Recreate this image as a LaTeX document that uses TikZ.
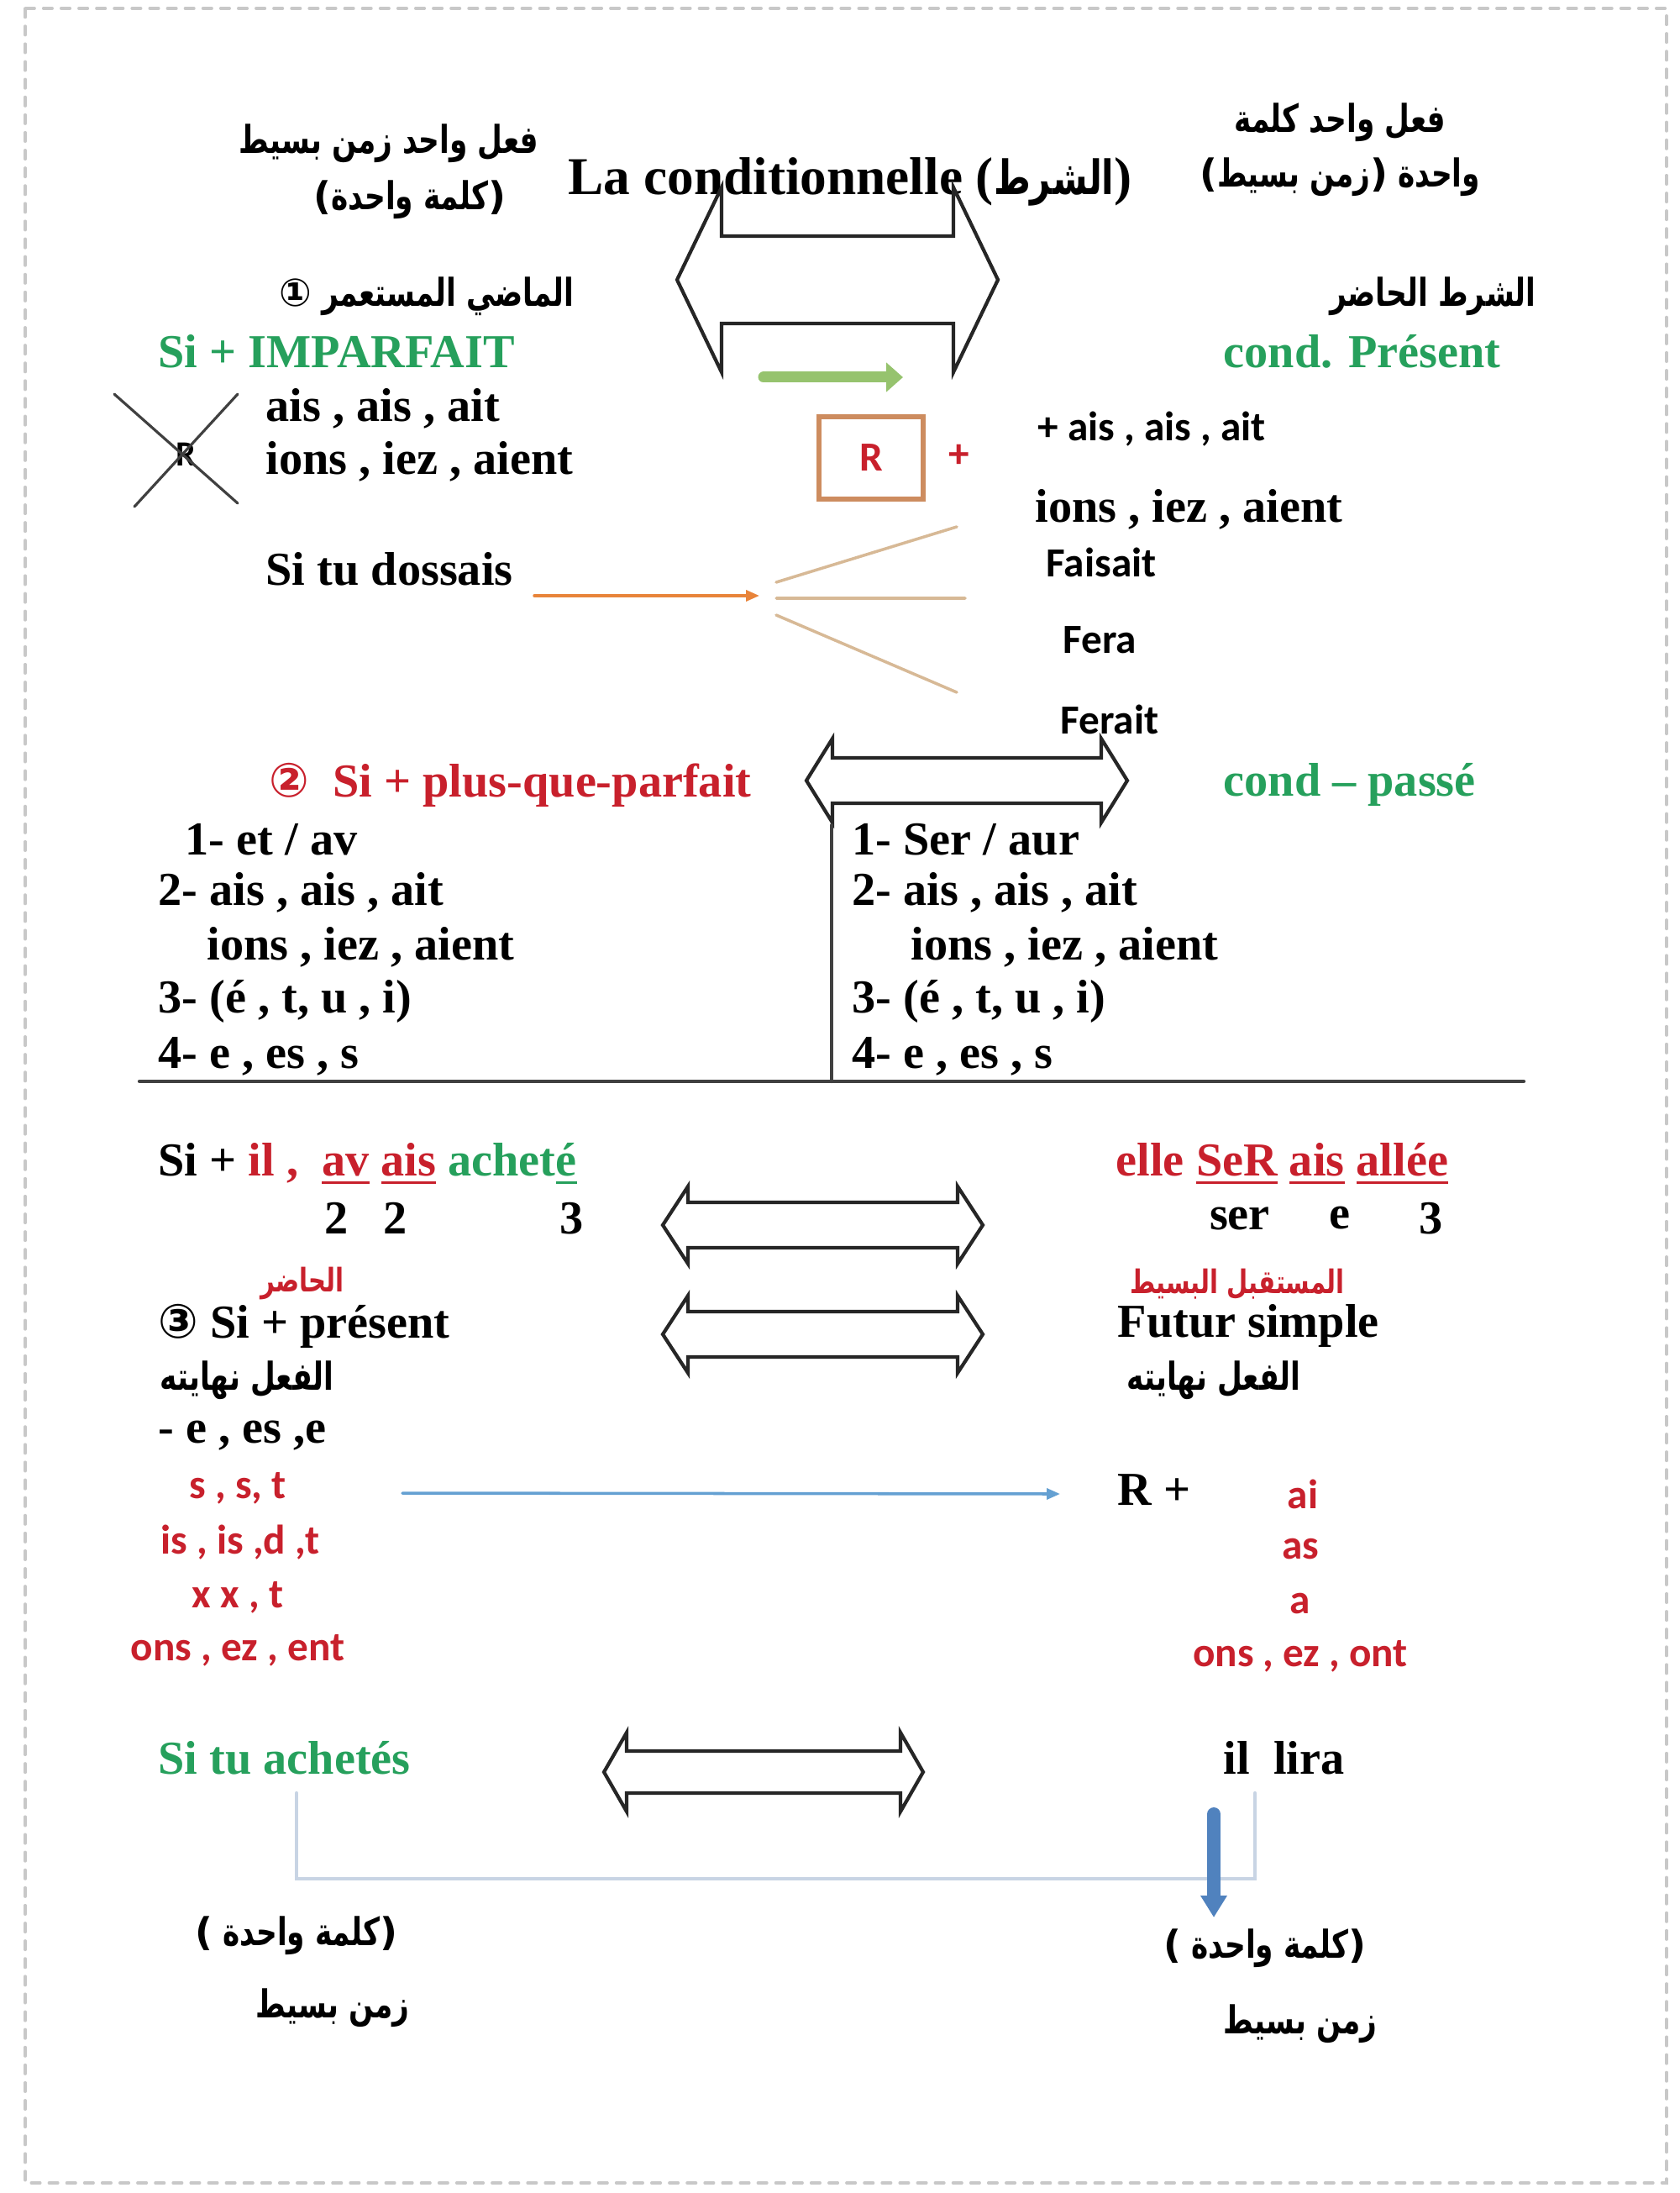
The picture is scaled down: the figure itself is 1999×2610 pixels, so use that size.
\documentclass[tikz,border=0pt]{standalone}
\usepackage{fontspec}
\setmainfont{Liberation Serif}
\newfontfamily\sansf{Carlito}
\newfontfamily\symf{DejaVu Sans}
\newfontfamily\arabicfont[Script=Arabic, FakeStretch=0.75]{DejaVu Sans}
\TeXXeTstate=1
\usetikzlibrary{arrows.meta}
\definecolor{tgreen}{RGB}{38,160,92}
\definecolor{tred}{RGB}{200,32,44}
\definecolor{lgreen}{RGB}{150,195,110}
\definecolor{orarrow}{RGB}{232,132,58}
\definecolor{fanline}{RGB}{215,185,150}
\definecolor{boxline}{RGB}{205,140,95}
\definecolor{tblue}{RGB}{100,160,210}
\definecolor{dblue}{RGB}{80,130,190}
\definecolor{brk}{RGB}{200,212,228}
\definecolor{pageframe}{RGB}{200,200,200}
\newcommand\thul[1]{\vtop{\hbox{#1}\kern1.5pt\hrule height1.1pt}}
\newcommand\lp{{\symf(}}
\newcommand\rp{{\symf)}}
\newcommand\dblarrow[6]{%
  \pgfmathsetmacro\dxa{#1+#4}\pgfmathsetmacro\dxb{#2-#4}%
  \pgfmathsetmacro\dya{#3-#6}\pgfmathsetmacro\dyb{#3-#5}%
  \pgfmathsetmacro\dyc{#3+#5}\pgfmathsetmacro\dyd{#3+#6}%
  \draw[bigarrow] (#1,#3) -- (\dxa,\dya) -- (\dxa,\dyb) -- (\dxb,\dyb) -- (\dxb,\dya)
    -- (#2,#3) -- (\dxb,\dyd) -- (\dxb,\dyc) -- (\dxa,\dyc) -- (\dxa,\dyd) -- cycle;}
\tikzset{
  txt/.style={inner sep=0pt, anchor=west, font=\fontsize{16}{19}\selectfont\bfseries},
  stxt/.style={inner sep=0pt, font=\fontsize{14}{17}\selectfont\sansf\bfseries},
  artxt/.style={inner sep=0pt, font=\fontsize{13}{16}\selectfont\arabicfont\bfseries},
  arsmall/.style={inner sep=0pt, tred, font=\fontsize{11}{13}\selectfont\arabicfont\bfseries},
  bigarrow/.style={line width=1.2pt, draw=black!85, line join=miter},
}
\begin{document}
\begin{tikzpicture}[x=0.01cm, y=-0.01cm, line cap=round]
\useasboundingbox (0,0) rectangle (1999,2610);
\draw[pageframe, dashed, line width=1pt] (30,10) rectangle (1984,2598);
% titre
\node[inner sep=0pt, font=\fontsize{18}{22}\selectfont\bfseries] (title) at (1012,216)
  {La conditionnelle ({\fontsize{16}{20}\selectfont\arabicfont\beginR الشرط\endR})};
\node[artxt] (tl1) at (463,171) {\beginR فعل واحد زمن بسيط\endR};
\node[artxt] (tl2) at (488,238) {\lp\beginR كلمة واحدة\endR\rp};
\node[artxt] (tr1) at (1595,146) {\beginR فعل واحد كلمة\endR};
\node[artxt] (tr2) at (1595,211) {\lp\beginR زمن بسيط\endR\rp\ \beginR واحدة\endR};
\dblarrow{806}{1188}{333}{53}{52}{110}
% 1 : imparfait
\node[artxt] (mad) at (508,353) {{\symf ①}\ \beginR الماضي المستعمر\endR};
\node[txt, tgreen] (imp) at (188,418) {Si + IMPARFAIT};
\node[txt] (imp1) at (316,486) {ais , ais , ait};
\node[txt] (imp2) at (316,549) {ions , iez , aient};
\node[stxt, font=\fontsize{12}{14}\selectfont\sansf\bfseries] (xr) at (221,541) {R};
\draw[black!75, line width=0.9pt] (136,469) -- (283,599) (283,469) -- (160,603);
\node[txt] (dossais) at (316,677) {Si tu dossais};
\node[artxt] (cpa) at (1706,353) {\beginR الشرط الحاضر\endR};
\node[txt, tgreen] (cpres) at (1456,418) {cond. Présent};
\coordinate (ga) at (909,449);
\coordinate (gb) at (1075,449);
\draw[lgreen, line width=0.13cm, -{Triangle[length=0.2cm, width=0.34cm]}] (ga) -- (gb);
\node[stxt, tred, draw=boxline, line width=1.5pt, minimum width=1.24cm, minimum height=0.98cm] (rbox) at (1037,545) {R};
\node[stxt, tred] (plus) at (1142,543) {+};
\node[stxt, anchor=west] (cp1) at (1235,511) {+ ais , ais , ait};
\node[txt] (cp2) at (1232,606) {ions , iez , aient};
\node[stxt, anchor=west] (fais) at (1245,669) {Faisait};
\node[stxt, anchor=west] (fera) at (1265,762) {Fera};
\node[stxt, anchor=west] (ferait) at (1262,856) {Ferait};
\coordinate (dos) at (636,709);
\coordinate (fan) at (904,709);
\draw[orarrow, line width=1pt, -{Triangle[length=0.16cm, width=0.13cm]}] (dos) -- (fan);
\draw[fanline, line width=1pt] (924,693) -- (1139,627) (924,712) -- (1149,712) (924,732) -- (1139,824);
% 2 : plus-que-parfait
\node[txt, tred] (pqp) at (320,934) {{\symf ②}\enspace Si + plus-que-parfait};
\node[txt, tgreen] (cpas) at (1456,934) {cond – passé};
\dblarrow{960}{1342}{929}{31}{27}{50}
\node[txt] (l1) at (220,999) {1- et / av};
\node[txt] (l2) at (188,1062) {2- ais , ais , ait};
\node[txt] (l3) at (246,1127) {ions , iez , aient};
\node[txt] (l4) at (188,1192) {3- (é , t, u , i)};
\node[txt] (l5) at (188,1257) {4- e , es , s};
\node[txt] (r1) at (1014,999) {1- Ser / aur};
\node[txt] (r2) at (1014,1062) {2- ais , ais , ait};
\node[txt] (r3) at (1084,1127) {ions , iez , aient};
\node[txt] (r4) at (1014,1192) {3- (é , t, u , i)};
\node[txt] (r5) at (1014,1257) {4- e , es , s};
\draw[black!75, line width=1.2pt] (990,982) -- (990,1287) (166,1287) -- (1814,1287);
% exemples
\node[txt] (ex1) at (188,1385) {Si + {\color{tred}il ,}\ \ {\color{tred}\thul{av} \thul{ais}} {\color{tgreen}achet\thul{é}}};
\node[txt, anchor=center] (n1) at (401,1450) {2};
\node[txt, anchor=center] (n2) at (471,1450) {2};
\node[txt, anchor=center] (n3) at (681,1450) {3};
\node[txt, tred] (ex2) at (1328,1385) {elle \thul{SeR} \thul{ais} \thul{allée}};
\node[txt, anchor=center] (m1) at (1476,1450) {ser};
\node[txt, anchor=center] (m2) at (1595,1450) {e};
\node[txt, anchor=center] (m3) at (1704,1450) {3};
\dblarrow{789}{1170}{1458}{30}{27}{46}
% 3 : present
\node[arsmall] (hadir) at (360,1528) {\beginR الحاضر\endR};
\node[txt] (pres) at (188,1578) {{\symf ③}\ Si + présent};
\node[artxt] (fin1) at (294,1643) {\beginR الفعل نهايته\endR};
\node[txt] (e1) at (188,1709) {- e , es ,e};
\node[stxt, tred] (s1) at (283,1771) {s , s, t};
\node[stxt, tred] (s2) at (286,1836) {is , is ,d ,t};
\node[stxt, tred] (s3) at (283,1901) {x x , t};
\node[stxt, tred] (s4) at (283,1964) {ons , ez , ent};
\dblarrow{789}{1170}{1588}{30}{27}{46}
\node[arsmall] (mustaqbal) at (1473,1528) {\beginR المستقبل البسيط\endR};
\node[txt] (fut) at (1330,1578) {Futur simple};
\node[artxt] (fin2) at (1445,1643) {\beginR الفعل نهايته\endR};
\node[txt] (rplus) at (1330,1773) {R +};
\coordinate (ba) at (479,1777);
\coordinate (bb) at (1262,1778);
\draw[tblue, line width=1pt, -{Triangle[length=0.16cm, width=0.13cm]}] (ba) -- (bb);
\node[stxt, tred] (f1) at (1551,1778) {ai};
\node[stxt, tred] (f2) at (1548,1843) {as};
\node[stxt, tred] (f3) at (1548,1908) {a};
\node[stxt, tred] (f4) at (1548,1971) {ons , ez , ont};
% bas
\node[txt, tgreen] (achetes) at (188,2092) {Si tu achetés};
\dblarrow{719}{1099}{2109}{27}{25}{47}
\node[txt] (lira) at (1456,2092) {il\ \ lira};
\draw[brk, line width=1.2pt] (353,2134) -- (353,2236) -- (1494,2236) -- (1494,2134);
\coordinate (da) at (1445,2159);
\coordinate (db) at (1445,2282);
\draw[dblue, line width=0.16cm, -{Triangle[length=0.26cm, width=0.3cm]}] (da) -- (db);
\node[artxt] (kl1) at (353,2304) {\lp\ \beginR كلمة واحدة\endR\rp};
\node[artxt] (zb1) at (396,2390) {\beginR زمن بسيط\endR};
\node[artxt] (kl2) at (1506,2319) {\lp\ \beginR كلمة واحدة\endR\rp};
\node[artxt] (zb2) at (1548,2409) {\beginR زمن بسيط\endR};
\end{tikzpicture}
\end{document}
